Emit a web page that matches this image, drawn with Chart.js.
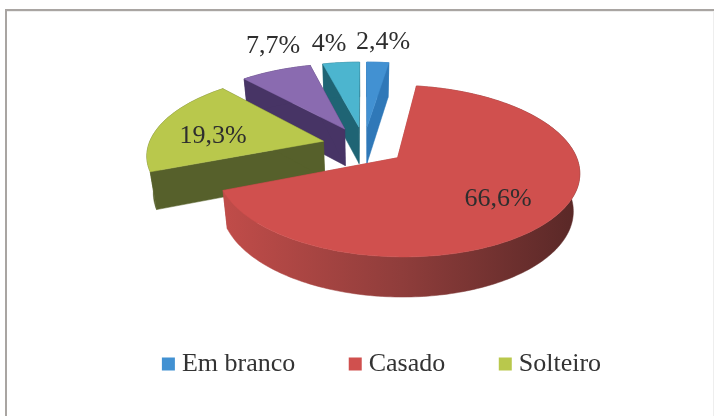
<!DOCTYPE html>
<html><head><meta charset="utf-8">
<style>html,body{margin:0;padding:0;background:#fff}#w{position:relative;width:714px;height:416px;overflow:hidden}canvas{display:block}</style>
<script src="https://cdn.jsdelivr.net/npm/chart.js@4"></script></head>
<body><div id="w"><canvas id="c" width="714" height="416"></canvas></div>
<script>
const categories = ['Em branco','Casado','Solteiro','Divorciado','Viúvo'];
const legendCategories = ['Em branco','Casado','Solteiro'];
const values = [2.4,66.6,19.3,7.7,4];
const valueLabels = ['2,4%','66,6%','19,3%','7,7%','4%'];
const topColors = ['#4291d2','#d0504e','#b9c84c','#8a6bb0','#4cb5cf'];
const wallColors = ['#2f78b8','#a8413f','#56602b','#473465','#1f6474'];
const drawOrder = [0,4,3,2,1];

const P = {cx:364, cy:145.5, rx:175, ry:80, k:0.152, explode:0.24, depth:37, shrink:0.03};
function proj(X,Y,h){
  const s = 1/(1-P.k*Y);
  const x = P.cx+P.rx*X*s, y = P.cy+P.ry*Y*s;
  if(!h) return [x,y];
  return [P.cx+(x-P.cx)*(1-P.shrink), y+h*(1+(s-1)*0.4)];
}
function sliceGeom(el){
  const a0 = el.startAngle+Math.PI/2, a1 = el.endAngle+Math.PI/2, mid=(a0+a1)/2;
  const ax = P.explode*Math.sin(mid), ay = -P.explode*Math.cos(mid);
  const n = Math.max(4,Math.ceil((a1-a0)/0.02));
  const rim = [];
  for(let i=0;i<=n;i++){const t=a0+(a1-a0)*i/n; rim.push([ax+Math.sin(t), ay-Math.cos(t)]);}
  return {ax,ay,rim};
}
function poly(ctx,pts,fill){
  ctx.beginPath(); pts.forEach((p,i)=>i?ctx.lineTo(p[0],p[1]):ctx.moveTo(p[0],p[1])); ctx.closePath();
  ctx.fillStyle=fill; ctx.fill(); ctx.strokeStyle=fill; ctx.lineWidth=0.5; ctx.stroke();
}
const pie3d = {
  id:'pie3d',
  beforeDatasetDraw(chart,args){
    const ctx=chart.ctx, els=args.meta.data;
    const frame=chart.options.plugins.pie3d;
    ctx.save();
    ctx.fillStyle=frame.color;
    ctx.fillRect(5,9,709,2);
    ctx.fillRect(5,9,2,407);
    ctx.fillStyle='#eeeeee';
    ctx.fillRect(7,11,707,1);
    ctx.fillRect(713,12,1,404);
    drawOrder.forEach(i=>{
      const {ax,ay,rim}=sliceGeom(els[i]), d=P.depth;
      const first=rim[0], last=rim[rim.length-1];
      poly(ctx,[proj(ax,ay),proj(ax,ay,d),proj(first[0],first[1],d),proj(first[0],first[1])],wallColors[i]);
      poly(ctx,[proj(ax,ay),proj(ax,ay,d),proj(last[0],last[1],d),proj(last[0],last[1])],wallColors[i]);
      const tops=rim.map(p=>proj(p[0],p[1])), bots=rim.map(p=>proj(p[0],p[1],d)).reverse();
      let wall=wallColors[i];
      if(i===1){
        const g=ctx.createLinearGradient(226,0,577,0);
        g.addColorStop(0,'#c04c49');g.addColorStop(0.5,'#8f3d3b');g.addColorStop(1,'#592827');
        wall=g;
      }
      poly(ctx,tops.concat(bots),wall);
      poly(ctx,[proj(ax,ay)].concat(tops),topColors[i]);
    });
    ctx.restore();
    return false;
  },
  afterDatasetsDraw(chart){
    const ctx=chart.ctx, lp=chart.options.plugins.pie3d.labelAt;
    ctx.save();
    ctx.font='26px "Liberation Serif"';ctx.fillStyle='#2e2e2e';ctx.textAlign='center';ctx.textBaseline='middle';
    valueLabels.forEach((t,i)=>ctx.fillText(t,lp[i][0],lp[i][1]));
    ctx.restore();
  }
};
new Chart(document.getElementById('c'),{
  type:'pie',
  data:{labels:categories,datasets:[{data:values,backgroundColor:topColors,borderWidth:0}]},
  plugins:[pie3d],
  options:{
    responsive:false,animation:false,
    layout:{padding:{left:55,bottom:29}},
    plugins:{
      tooltip:{enabled:false},
      pie3d:{color:'#a9a5a2',labelAt:[[383,42],[498,199],[213,136],[273,46],[329,44]]},
      legend:{position:'bottom',
        labels:{font:{family:'"Liberation Serif"',size:26},color:'#333',usePointStyle:true,pointStyle:'rect',boxWidth:1,boxHeight:13,padding:59.5,
          filter:(it)=>legendCategories.includes(it.text)}}
    }
  }
});
</script></body></html>
